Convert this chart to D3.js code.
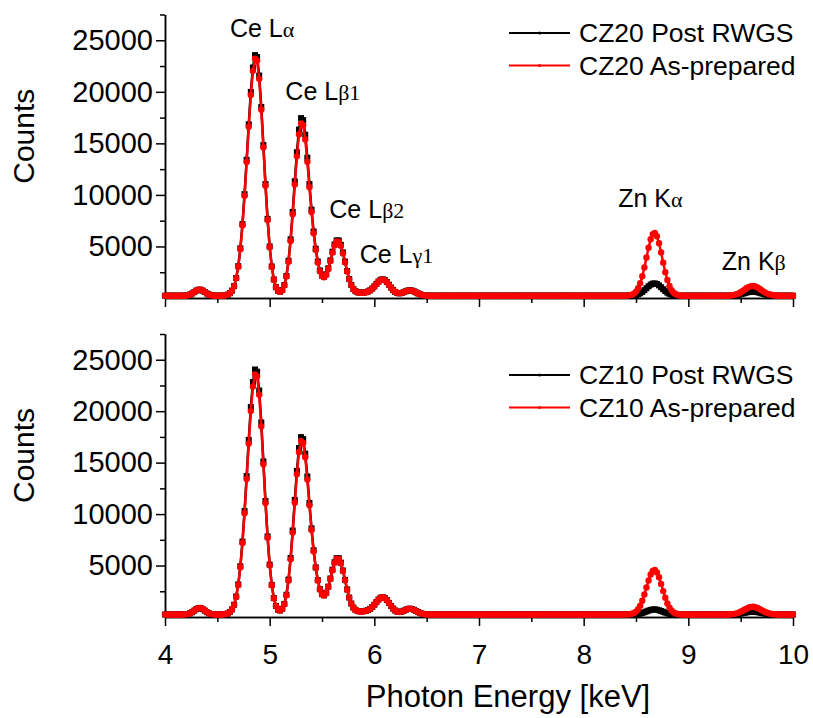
<!DOCTYPE html>
<html>
<head>
<meta charset="utf-8">
<script src="https://cdn.jsdelivr.net/npm/d3@7"></script>
<style>
  body { margin: 0; background: #fff; }
  text { font-family: "Liberation Sans", Arial, sans-serif; fill: #000; }
</style>
</head>
<body>
<div id="chart"></div>
<script>
// photon energy channels (keV), one row = 0.2 keV
const energy = [
  4.00,4.02,4.04,4.06,4.08,4.10,4.12,4.14,4.16,4.18,
  4.20,4.22,4.24,4.26,4.28,4.30,4.32,4.34,4.36,4.38,
  4.40,4.42,4.44,4.46,4.48,4.50,4.52,4.54,4.56,4.58,
  4.60,4.62,4.64,4.66,4.68,4.70,4.72,4.74,4.76,4.78,
  4.80,4.82,4.84,4.86,4.88,4.90,4.92,4.94,4.96,4.98,
  5.00,5.02,5.04,5.06,5.08,5.10,5.12,5.14,5.16,5.18,
  5.20,5.22,5.24,5.26,5.28,5.30,5.32,5.34,5.36,5.38,
  5.40,5.42,5.44,5.46,5.48,5.50,5.52,5.54,5.56,5.58,
  5.60,5.62,5.64,5.66,5.68,5.70,5.72,5.74,5.76,5.78,
  5.80,5.82,5.84,5.86,5.88,5.90,5.92,5.94,5.96,5.98,
  6.00,6.02,6.04,6.06,6.08,6.10,6.12,6.14,6.16,6.18,
  6.20,6.22,6.24,6.26,6.28,6.30,6.32,6.34,6.36,6.38,
  6.40,6.42,6.44,6.46,6.48,6.50,6.52,6.54,6.56,6.58,
  6.60,6.62,6.64,6.66,6.68,6.70,6.72,6.74,6.76,6.78,
  6.80,6.82,6.84,6.86,6.88,6.90,6.92,6.94,6.96,6.98,
  7.00,7.02,7.04,7.06,7.08,7.10,7.12,7.14,7.16,7.18,
  7.20,7.22,7.24,7.26,7.28,7.30,7.32,7.34,7.36,7.38,
  7.40,7.42,7.44,7.46,7.48,7.50,7.52,7.54,7.56,7.58,
  7.60,7.62,7.64,7.66,7.68,7.70,7.72,7.74,7.76,7.78,
  7.80,7.82,7.84,7.86,7.88,7.90,7.92,7.94,7.96,7.98,
  8.00,8.02,8.04,8.06,8.08,8.10,8.12,8.14,8.16,8.18,
  8.20,8.22,8.24,8.26,8.28,8.30,8.32,8.34,8.36,8.38,
  8.40,8.42,8.44,8.46,8.48,8.50,8.52,8.54,8.56,8.58,
  8.60,8.62,8.64,8.66,8.68,8.70,8.72,8.74,8.76,8.78,
  8.80,8.82,8.84,8.86,8.88,8.90,8.92,8.94,8.96,8.98,
  9.00,9.02,9.04,9.06,9.08,9.10,9.12,9.14,9.16,9.18,
  9.20,9.22,9.24,9.26,9.28,9.30,9.32,9.34,9.36,9.38,
  9.40,9.42,9.44,9.46,9.48,9.50,9.52,9.54,9.56,9.58,
  9.60,9.62,9.64,9.66,9.68,9.70,9.72,9.74,9.76,9.78,
  9.80,9.82,9.84,9.86,9.88,9.90,9.92,9.94,9.96,9.98,
  10.00
];

// CZ20 Post RWGS (counts)
const cz20Post = [
  220,220,225,215,220,225,220,215,225,225,
  240,270,340,440,580,720,805,805,715,580,
  440,340,270,240,225,220,220,225,240,270,
  330,465,715,1155,1940,3085,4820,7165,10070,13400,
  16850,19990,22360,23560,23370,21580,18530,14830,11050,7680,
  5000,3060,1800,1050,690,610,775,1250,2140,3610,
  5690,8350,11320,14140,16340,17450,17250,15840,13610,11050,
  8570,6450,4780,3540,2670,2180,2060,2300,2880,3650,
  4490,5190,5590,5580,5160,4420,3530,2620,1840,1270,
  880,660,555,515,515,530,565,635,745,915,
  1130,1375,1600,1770,1820,1745,1550,1290,1015,770,
  585,480,455,485,560,650,725,750,720,640,
  540,440,350,290,255,235,225,220,225,220,
  220,225,225,220,230,225,220,225,225,220,
  225,230,220,225,225,220,230,225,220,225,
  220,225,230,225,220,225,225,230,220,225,
  225,220,225,230,225,220,225,225,230,220,
  230,225,220,225,230,225,220,225,225,230,
  220,225,230,220,225,230,225,220,225,225,
  225,230,220,225,225,220,230,225,220,225,
  220,225,225,230,220,225,225,220,230,225,
  225,220,225,225,230,220,225,230,225,220,
  221,224,229,240,261,299,362,458,591,758,
  948,1137,1296,1396,1418,1355,1222,1044,851,670,
  519,405,327,278,249,233,226,222,220,222,
  225,220,225,230,225,220,225,225,220,225,
  225,220,225,220,225,220,222,220,222,225,
  231,240,256,281,316,362,418,477,536,583,
  613,619,601,562,508,448,390,338,298,268,
  248,235,228,224,222,220,225,220,222,225,
  220
];

// CZ20 As-prepared (counts)
const cz20Prep = [
  220,225,215,220,225,220,215,225,220,230,
  240,275,340,445,585,720,810,810,720,585,
  445,340,275,240,225,220,215,225,240,270,
  330,460,705,1140,1910,3040,4750,7060,9920,13200,
  16600,19690,22030,23210,23020,21260,18260,14610,10890,7570,
  4930,3020,1780,1040,680,600,760,1225,2090,3520,
  5540,8120,11000,13740,15870,16940,16750,15380,13220,10740,
  8340,6280,4660,3450,2600,2130,2020,2260,2820,3580,
  4400,5090,5480,5470,5060,4330,3460,2570,1810,1250,
  870,650,550,510,510,525,560,625,735,900,
  1110,1350,1575,1740,1790,1715,1525,1270,1000,760,
  580,475,450,480,555,645,715,740,710,635,
  535,435,350,290,255,235,225,220,225,220,
  225,220,230,225,220,225,230,220,225,230,
  225,220,225,230,225,220,230,225,220,225,
  230,225,220,230,225,230,220,225,230,225,
  220,230,225,225,230,220,225,230,225,220,
  225,230,220,225,230,225,220,230,225,225,
  230,220,225,230,225,220,230,225,225,230,
  225,220,230,225,220,225,230,225,220,225,
  230,225,220,225,230,225,220,225,230,225,
  220,225,230,225,220,230,225,220,225,230,
  227,240,265,320,427,623,942,1428,2105,2953,
  3923,4880,5692,6198,6307,5991,5314,4411,3429,2508,
  1739,1159,763,513,366,287,249,232,225,222,
  225,230,225,220,225,230,225,220,230,225,
  230,225,220,225,230,225,225,230,226,233,
  246,268,306,364,448,557,689,831,970,1083,
  1153,1168,1124,1031,903,761,623,501,404,334,
  286,256,238,229,224,222,225,220,225,230,
  225
];

// CZ10 Post RWGS (counts)
const cz10Post = [
  240,240,235,245,240,235,240,245,240,245,
  255,290,360,470,620,765,860,860,765,620,
  470,360,290,255,245,240,240,245,260,290,
  350,485,735,1190,1990,3165,4930,7330,10290,13690,
  17210,20400,22830,24050,23840,22010,18900,15120,11270,7830,
  5090,3120,1840,1080,715,635,800,1270,2160,3640,
  5730,8400,11380,14200,16410,17480,17280,15870,13650,11080,
  8610,6480,4820,3580,2700,2220,2110,2360,2950,3740,
  4600,5320,5720,5710,5280,4520,3610,2680,1890,1310,
  915,695,590,550,550,565,605,675,790,970,
  1195,1450,1700,1875,1930,1850,1645,1370,1075,820,
  630,515,490,525,605,705,785,810,775,695,
  585,475,385,315,280,258,248,242,245,240,
  240,245,240,235,245,240,240,245,240,235,
  245,240,235,240,245,240,235,245,240,240,
  235,245,240,240,235,245,240,235,245,240,
  240,235,245,240,240,245,235,240,245,240,
  245,240,235,245,240,240,245,235,240,245,
  240,245,240,235,245,240,240,245,235,240,
  235,240,245,240,235,245,240,240,245,240,
  240,245,235,240,245,240,235,245,240,240,
  245,240,240,235,245,240,245,240,235,245,
  241,242,244,248,257,273,299,339,395,464,
  544,622,689,730,739,713,658,584,503,428,
  365,317,285,264,252,246,242,241,240,240,
  245,240,235,240,245,240,240,235,245,240,
  240,245,240,235,240,245,240,240,242,244,
  247,254,265,281,305,336,373,414,453,485,
  505,509,497,471,434,394,354,320,292,272,
  259,250,245,243,241,240,245,240,235,240,
  240
];

// CZ10 As-prepared (counts)
const cz10Prep = [
  240,235,245,240,235,240,245,235,240,250,
  260,300,370,485,640,790,890,890,790,640,
  485,370,300,260,245,240,235,245,260,290,
  350,480,725,1170,1955,3110,4840,7190,10090,13420,
  16870,20010,22380,23570,23380,21590,18540,14840,11070,7700,
  5020,3080,1820,1070,710,630,790,1250,2110,3550,
  5600,8200,11100,13870,16020,17100,16910,15530,13350,10850,
  8450,6380,4760,3540,2680,2200,2090,2340,2920,3700,
  4550,5260,5660,5650,5230,4480,3580,2660,1880,1300,
  910,690,585,545,545,560,600,670,785,965,
  1190,1445,1690,1865,1920,1840,1635,1360,1070,815,
  625,510,485,520,600,700,780,805,770,690,
  580,470,380,310,275,255,245,240,245,240,
  245,240,235,240,245,240,235,245,240,240,
  240,235,245,240,235,245,240,240,245,235,
  240,245,240,235,245,240,240,245,235,240,
  245,240,235,245,240,240,245,240,235,245,
  240,235,240,245,240,235,245,240,240,245,
  235,240,245,240,240,245,235,240,245,240,
  240,245,240,235,245,240,240,245,240,235,
  245,240,240,245,235,240,245,240,240,245,
  240,235,245,240,240,245,240,235,245,240,
  245,253,272,311,387,526,751,1097,1578,2180,
  2868,3548,4124,4483,4561,4336,3856,3215,2518,1864,
  1318,907,625,448,344,288,261,249,244,240,
  240,245,240,235,245,240,240,245,240,235,
  245,240,235,245,240,240,245,240,245,250,
  260,278,308,354,420,506,611,722,833,921,
  977,989,954,881,779,668,558,462,386,330,
  292,269,254,247,243,240,245,240,235,245,
  240
];

const xMajor = [4, 5, 6, 7, 8, 9, 10];
const xMinor = [4.5, 5.5, 6.5, 7.5, 8.5, 9.5];
const yMajor = [5000, 10000, 15000, 20000, 25000];
const yMinor = [2500, 7500, 12500, 17500, 22500, 27500];

// peak annotations: name, greek part, anchor (energy, counts) in the top panel
const peakNames = ["Ce L", "Ce L", "Ce L", "Ce L", "Zn K", "Zn K"];
const peakGreek = ["α", "β1", "β2", "γ1", "α", "β"];
const peakE = [4.62, 5.15, 5.57, 5.86, 8.33, 9.32];
const peakC = [25300, 19200, 7750, 3400, 8800, 2700];

const width = 813, height = 718;
const x = d3.scaleLinear().domain([4, 10]).range([165, 793]);
const yTop = d3.scaleLinear().domain([0, 27500]).range([298, 14.5]);
const yBot = d3.scaleLinear().domain([0, 27500]).range([617, 334]);

const svg = d3.select("#chart").append("svg")
  .attr("width", width).attr("height", height);

function drawPanel(y, black, red, names, legendTop, withLabels) {
  const g = svg.append("g");

  // x axis: minor then major ticks
  g.append("g").attr("transform", `translate(0,${y.range()[0]})`)
    .call(d3.axisBottom(x).tickValues(xMinor).tickSize(5).tickFormat("").tickSizeOuter(0));
  const xa = g.append("g").attr("transform", `translate(0,${y.range()[0]})`)
    .call(d3.axisBottom(x).tickValues(xMajor).tickSize(9).tickSizeOuter(0).tickPadding(18)
      .tickFormat(withLabels ? d3.format("d") : ""));
  xa.selectAll("text").style("font-size", "28px");

  // y axis
  g.append("g").attr("transform", "translate(165,0)")
    .call(d3.axisLeft(y).tickValues(yMinor).tickSize(5).tickFormat("").tickSizeOuter(0));
  const ya = g.append("g").attr("transform", "translate(165,0)")
    .call(d3.axisLeft(y).tickValues(yMajor).tickSize(9).tickSizeOuter(0).tickPadding(3)
      .tickFormat(d3.format("d")));
  ya.selectAll("text").style("font-size", "29px");
  g.selectAll(".domain, .tick line").attr("stroke", "#000").attr("stroke-width", 1.5);

  g.append("text")
    .attr("transform", `translate(34,${(y.range()[0] + y.range()[1]) / 2 - 20}) rotate(-90)`)
    .attr("text-anchor", "middle")
    .style("font-size", "30px")
    .text("Counts");

  const pts = (arr) => energy.map((e, i) => [e, arr[i]]);
  const line = d3.line().x(d => x(d[0])).y(d => y(d[1]));

  // black series with square markers
  g.append("path").datum(pts(black)).attr("d", line)
    .attr("fill", "none").attr("stroke", "#000").attr("stroke-width", 2.5);
  g.append("g").selectAll("rect").data(pts(black)).join("rect")
    .attr("x", d => x(d[0]) - 3).attr("y", d => y(d[1]) - 3)
    .attr("width", 6).attr("height", 6).attr("fill", "#000");

  // red series with round markers
  g.append("path").datum(pts(red)).attr("d", line)
    .attr("fill", "none").attr("stroke", "#ff0000").attr("stroke-width", 2.5);
  g.append("g").selectAll("circle").data(pts(red)).join("circle")
    .attr("cx", d => x(d[0])).attr("cy", d => y(d[1]))
    .attr("r", 3.2).attr("fill", "#ff0000");

  // legend
  const colors = ["#000", "#ff0000"];
  names.forEach((n, i) => {
    const ly = legendTop + i * 32.5;
    g.append("line").attr("x1", 509).attr("x2", 570).attr("y1", ly).attr("y2", ly)
      .attr("stroke", colors[i]).attr("stroke-width", 2);
    g.append("circle").attr("cx", 539.5).attr("cy", ly).attr("r", 1.5).attr("fill", colors[i]);
    g.append("text").attr("x", 579).attr("y", ly).attr("dy", "0.35em")
      .style("font-size", "26.5px").text(n);
  });
}

drawPanel(yTop, cz20Post, cz20Prep, ["CZ20 Post RWGS", "CZ20 As-prepared"], 33, false);
drawPanel(yBot, cz10Post, cz10Prep, ["CZ10 Post RWGS", "CZ10 As-prepared"], 375, true);

// peak labels in the top panel
peakNames.forEach((n, i) => {
  const t = svg.append("text").attr("x", x(peakE[i])).attr("y", yTop(peakC[i]))
    .style("font-size", "25px");
  t.append("tspan").text(n);
  t.append("tspan").style("font-family", '"Liberation Serif", "Times New Roman", serif')
    .style("font-size", "22px").text(peakGreek[i]);
});

svg.append("text").attr("x", 508).attr("y", 707).attr("text-anchor", "middle")
  .style("font-size", "31px").text("Photon Energy [keV]");
</script>
</body>
</html>
